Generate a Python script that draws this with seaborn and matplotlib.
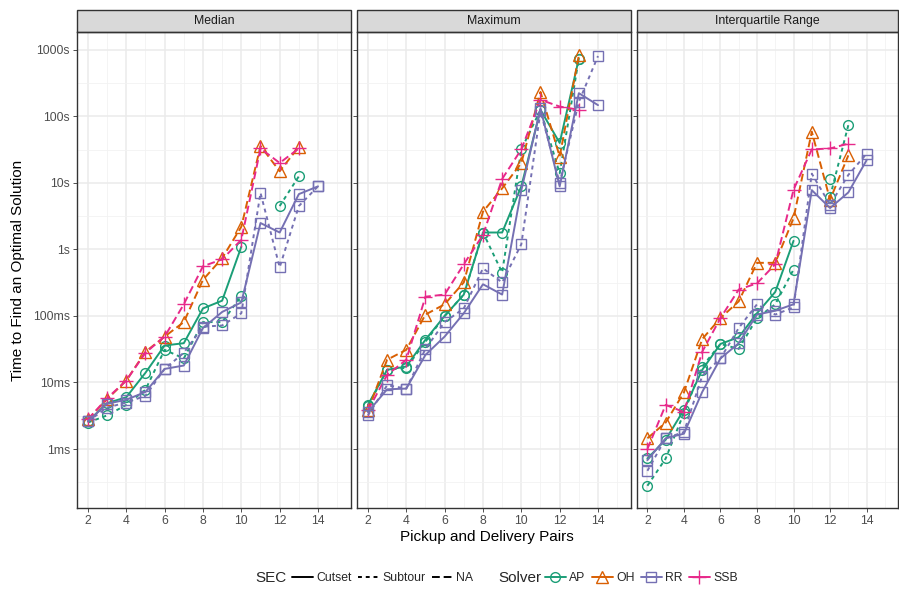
import numpy as np
import pandas as pd
import matplotlib
matplotlib.use("Agg")
import matplotlib.pyplot as plt
import seaborn as sns
from matplotlib.lines import Line2D
from matplotlib.patches import Rectangle
from matplotlib.ticker import FixedLocator, NullFormatter

nan = np.nan
pairs = list(range(2, 15))
panels = ["Median", "Maximum", "Interquartile Range"]
solvers = ["AP", "OH", "RR", "SSB"]
secs = ["Cutset", "Subtour", "NA"]
ytick_vals = [1e-3, 1e-2, 1e-1, 1, 10, 100, 1000]
ytick_labels = ["1ms", "10ms", "100ms", "1s", "10s", "100s", "1000s"]
xtick_vals = [2, 4, 6, 8, 10, 12, 14]

# times in seconds, pairs 2..14
med_ap_cutset = [0.0026, 0.0049, 0.0060, 0.014, 0.036, 0.039, 0.13, 0.17, 1.1, nan, nan, nan, nan]
med_ap_subtour = [0.0025, 0.0032, 0.0046, 0.0078, 0.031, 0.023, 0.081, 0.081, 0.20, nan, 4.5, 12.6, nan]
med_oh_na = [0.0028, 0.0056, 0.0107, 0.029, 0.049, 0.081, 0.35, 0.74, 2.2, 36, 15, 35, nan]
med_ssb_na = [0.0028, 0.0058, 0.0107, 0.028, 0.049, 0.15, 0.56, 0.71, 1.4, 33, 20, 33, nan]
med_rr_cutset = [0.0026, 0.0048, 0.0055, 0.0072, 0.016, 0.018, 0.066, 0.115, 0.16, 2.5, 1.8, 6.8, 8.9]
med_rr_subtour = [0.0026, 0.0042, 0.0050, 0.0063, 0.016, 0.028, 0.069, 0.072, 0.11, 7.1, 0.54, 4.5, 8.9]

max_ap_cutset = [0.0046, 0.0155, 0.0174, 0.044, 0.10, 0.21, 1.8, 1.8, 8.9, 126, 40, 740, nan]
max_ap_subtour = [0.0044, 0.0155, 0.0166, 0.041, 0.10, 0.21, 1.8, 0.45, 32, 126, 14, 740, nan]
max_oh_na = [0.0038, 0.022, 0.031, 0.105, 0.15, 0.32, 3.7, 8.3, 20, 234, 25, 830, nan]
max_ssb_na = [0.0038, 0.013, 0.022, 0.195, 0.21, 0.60, 1.66, 11.5, 32, 178, 141, 126, nan]
max_rr_cutset = [0.0036, 0.0079, 0.0081, 0.026, 0.049, 0.11, 0.30, 0.21, 7.8, 132, 8.9, 224, 148]
max_rr_subtour = [0.0032, 0.0091, 0.0081, 0.032, 0.081, 0.13, 0.52, 0.32, 1.2, 120, 10, 166, 810]

iqr_ap_cutset = [0.00072, 0.00138, 0.0039, 0.0155, 0.038, 0.048, 0.11, 0.23, 1.35, nan, 11.5, nan, nan]
iqr_ap_subtour = [0.00028, 0.00072, 0.0035, 0.0174, 0.038, 0.032, 0.093, 0.15, 0.50, nan, 6.2, 74, nan]
iqr_oh_na = [0.00145, 0.0025, 0.0071, 0.045, 0.093, 0.166, 0.63, 0.63, 2.95, 59, 5.6, 26, nan]
iqr_ssb_na = [0.0010, 0.0046, 0.0036, 0.029, 0.093, 0.25, 0.31, 0.60, 7.9, 32, 33, 39, nan]
iqr_rr_cutset = [0.00068, 0.00145, 0.0017, 0.0072, 0.023, 0.039, 0.105, 0.12, 0.15, 7.8, 4.2, 7.2, 22]
iqr_rr_subtour = [0.00047, 0.00145, 0.0018, 0.0126, 0.023, 0.066, 0.15, 0.105, 0.135, 13.8, 4.7, 13.2, 27.5]

series = [
    ("Median", "AP", "Cutset", med_ap_cutset), ("Median", "AP", "Subtour", med_ap_subtour),
    ("Median", "OH", "NA", med_oh_na), ("Median", "SSB", "NA", med_ssb_na),
    ("Median", "RR", "Cutset", med_rr_cutset), ("Median", "RR", "Subtour", med_rr_subtour),
    ("Maximum", "AP", "Cutset", max_ap_cutset), ("Maximum", "AP", "Subtour", max_ap_subtour),
    ("Maximum", "OH", "NA", max_oh_na), ("Maximum", "SSB", "NA", max_ssb_na),
    ("Maximum", "RR", "Cutset", max_rr_cutset), ("Maximum", "RR", "Subtour", max_rr_subtour),
    ("Interquartile Range", "AP", "Cutset", iqr_ap_cutset), ("Interquartile Range", "AP", "Subtour", iqr_ap_subtour),
    ("Interquartile Range", "OH", "NA", iqr_oh_na), ("Interquartile Range", "SSB", "NA", iqr_ssb_na),
    ("Interquartile Range", "RR", "Cutset", iqr_rr_cutset), ("Interquartile Range", "RR", "Subtour", iqr_rr_subtour),
]

rows = []
for panel, solver, sec, vals in series:
    seg = 0
    prev_nan = True
    for n, v in zip(pairs, vals):
        if np.isnan(v):
            prev_nan = True
            continue
        if prev_nan:
            seg += 1
        prev_nan = False
        rows.append(dict(panel=panel, solver=solver, sec=sec, pairs=n, time=v, seg=seg))
df = pd.DataFrame(rows)

sns.set_theme(style="white")
plt.rcParams["font.family"] = ["Liberation Sans", "DejaVu Sans"]

colors = {"AP": "#1B9E77", "OH": "#D95F02", "RR": "#7570B3", "SSB": "#E7298A"}
markers = {"AP": "o", "OH": "^", "RR": "s", "SSB": "+"}
msizes = {"AP": 7, "OH": 8, "RR": 7, "SSB": 10}
lstyles = {"Cutset": "-", "Subtour": (0, (2, 2)), "NA": (0, (4, 2))}
LW = 1.4

W, H = 899, 590
fig = plt.figure(figsize=(W / 100, H / 100), dpi=100)
lefts = [77, 357, 637]
pw = 274
ptop, pbot = 32, 508
strip_h = 22
ylo, yhi = 10 ** -3.887, 10 ** 3.27

for i, panel in enumerate(panels):
    ax = fig.add_axes([lefts[i] / W, 1 - pbot / H, (pw if i < 2 else 261) / W, (pbot - ptop) / H])
    ax.set_yscale("log")
    sub = df[df.panel == panel]
    for (solver, sec), g in sub.groupby(["solver", "sec"], sort=False):
        c = colors[solver]
        sns.lineplot(data=g, x="pairs", y="time", units="seg", estimator=None, ax=ax,
                     color=c, marker=markers[solver], markersize=msizes[solver],
                     markerfacecolor="none", markeredgecolor=c, markeredgewidth=1.0,
                     linestyle=lstyles[sec], linewidth=LW, legend=False, zorder=3)
    ax.set_xlim(1.43, 15.72)
    ax.set_ylim(ylo, yhi)
    ax.set_xticks(xtick_vals)
    ax.xaxis.set_minor_locator(FixedLocator([3, 5, 7, 9, 11, 13, 15]))
    ax.yaxis.set_major_locator(FixedLocator(ytick_vals))
    ax.yaxis.set_minor_locator(FixedLocator([10 ** (k + 0.5) for k in range(-4, 4)]))
    ax.yaxis.set_minor_formatter(NullFormatter())
    if i == 0:
        ax.set_yticklabels(ytick_labels)
    else:
        ax.set_yticklabels([])
    ax.grid(True, which="major", color="#EBEBEB", linewidth=1.1, zorder=0)
    ax.grid(True, which="minor", color="#F2F2F2", linewidth=0.6, zorder=0)
    ax.set_axisbelow(True)
    ax.tick_params(axis="both", which="major", length=3, width=0.6, color="#333333",
                   labelsize=8.8, labelcolor="#4D4D4D", pad=2, left=True, bottom=True)
    ax.tick_params(axis="both", which="minor", length=0)
    for s in ax.spines.values():
        s.set_color("#333333")
        s.set_linewidth(1.0)
    ax.set_xlabel("")
    ax.set_ylabel("")
    ax.add_patch(Rectangle((0, 1), 1, strip_h / (pbot - ptop), transform=ax.transAxes,
                           facecolor="#D9D9D9", edgecolor="#333333", linewidth=1.0, clip_on=False))
    ax.text(0.5, 1 + strip_h / 2 / (pbot - ptop), panel, transform=ax.transAxes,
            ha="center", va="center", fontsize=8.8, color="#1A1A1A")

fig.text(18 / W, 1 - 270 / H, "Time to Find an Optimal Solution", rotation=90,
         ha="center", va="center", fontsize=11, color="black")
fig.text(487 / W, 1 - 537 / H, "Pickup and Delivery Pairs", ha="center", va="center",
         fontsize=11, color="black")

ly = 1 - 578 / H
fig.text(255 / W, ly, "SEC", ha="left", va="center", fontsize=11)
sec_handles = [Line2D([0], [0], color="black", lw=LW, linestyle=lstyles[s]) for s in secs]
fig.legend(sec_handles, secs, loc="center left", bbox_to_anchor=(292 / W, ly), ncol=3,
           frameon=False, fontsize=8.8, handlelength=1.7, handletextpad=0.3,
           columnspacing=0.5, borderpad=0, borderaxespad=0)
fig.text(498 / W, ly, "Solver", ha="left", va="center", fontsize=11)
sol_handles = [Line2D([0], [0], color=colors[s], lw=LW, marker=markers[s],
                      markersize=msizes[s], markerfacecolor="none", markeredgecolor=colors[s],
                      markeredgewidth=1.0) for s in solvers]
fig.legend(sol_handles, solvers, loc="center left", bbox_to_anchor=(545 / W, ly), ncol=4,
           frameon=False, fontsize=8.8, handlelength=1.7, handletextpad=0.3,
           columnspacing=0.5, borderpad=0, borderaxespad=0)

fig.savefig("out.png", dpi=100, facecolor="white")
